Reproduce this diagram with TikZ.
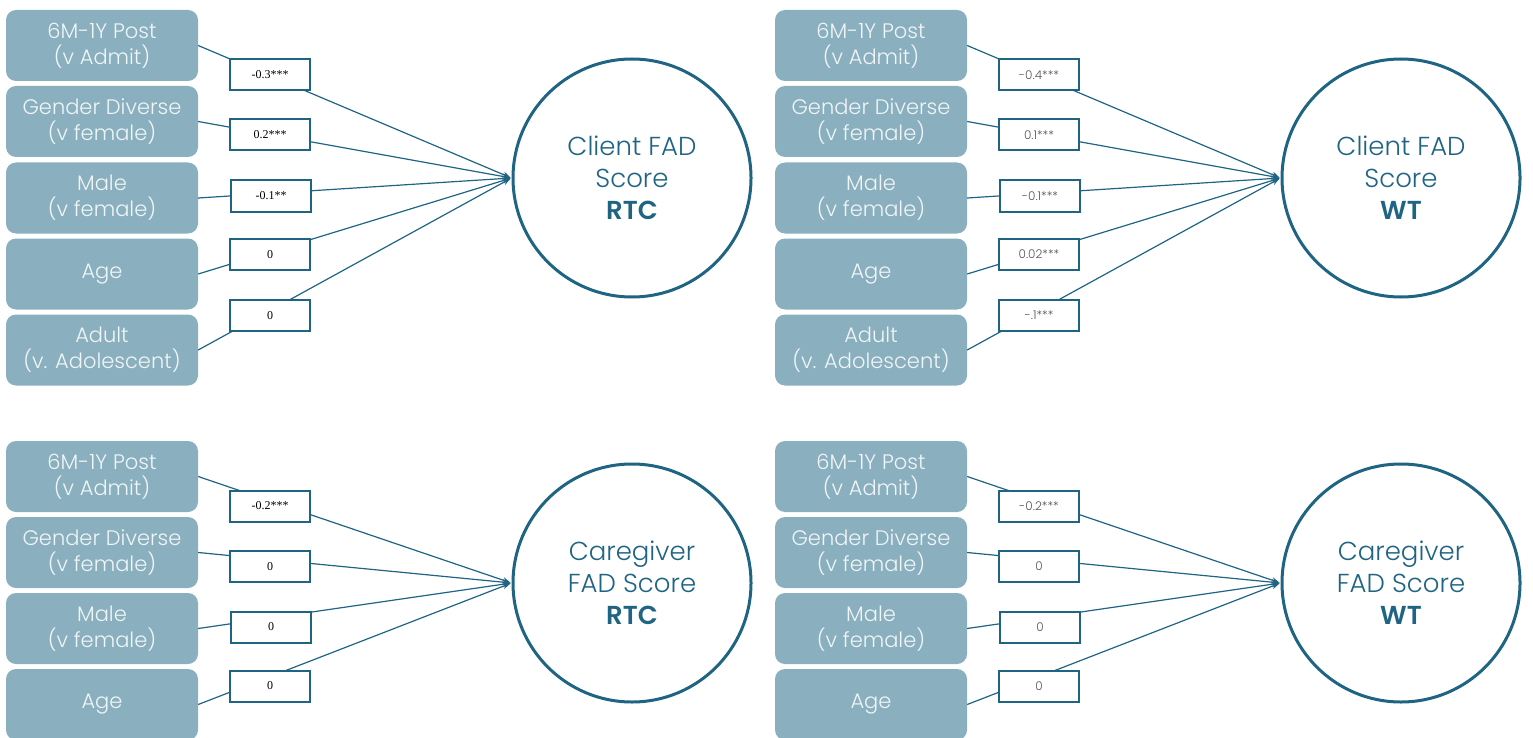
\documentclass[tikz,border=0pt]{standalone}
\usepackage{fontspec}
\setmainfont{Poppins}[UprightFont=* Light, BoldFont=* SemiBold]
\newfontfamily\coefserif{Liberation Serif}
\usetikzlibrary{arrows.meta}
\definecolor{boxfill}{HTML}{8AAFBF}
\definecolor{predtext}{HTML}{F0F5F7}
\definecolor{tealc}{HTML}{1F6483}
\definecolor{coefgray}{HTML}{555555}
\tikzset{
  pred/.style={rectangle, rounded corners=10pt, fill=boxfill, minimum width=192pt, minimum height=71pt,
    inner sep=0pt, text=predtext, align=center, font=\fontsize{21}{26}\selectfont},
  coef/.style={rectangle, draw=tealc, line width=2pt, fill=white, minimum width=80pt, minimum height=31pt,
    inner sep=0pt},
  coefrtc/.style={coef, font=\coefserif\fontsize{12}{14}\selectfont, text=black},
  coefwt/.style={coef, font=\fontsize{12}{14}\selectfont, text=coefgray},
  outc/.style={circle, draw=tealc, line width=3pt, minimum size=238pt, inner sep=0pt, align=center,
    text=tealc, font=\fontsize{26}{32}\selectfont},
  conn/.style={draw=tealc, line width=1.2pt, shorten >=1pt, -{Stealth[length=8pt,width=6pt]}},
}
\begin{document}
\begin{tikzpicture}[x=1pt,y=-1pt]
\useasboundingbox (0,0) rectangle (1533,738);
\clip (0,0) rectangle (1533,738);
% ---------- top left ----------
\node[pred] (a1) at (102,45.5) {6M-1Y Post\\(v Admit)};
\node[pred] (a2) at (102,121.5) {Gender Diverse\\(v female)};
\node[pred] (a3) at (102,198) {Male\\(v female)};
\node[pred] (a4) at (102,274) {Age};
\node[pred] (a5) at (102,350) {Adult\\(v. Adolescent)};
\node[outc] (ao) at (632,178) {Client FAD\\Score\\\textbf{RTC}};
\foreach \i in {1,...,5} \draw[conn] (a\i.east) -- (ao.west);
\node[coefrtc] (ac1) at (270,75) {-0.3***};
\node[coefrtc] (ac2) at (270,135) {0.2***};
\node[coefrtc] (ac3) at (271,196) {-0.1**};
\node[coefrtc] (ac4) at (270,254.5) {0};
\node[coefrtc] (ac5) at (270,315.5) {0};
% ---------- top right ----------
\node[pred] (b1) at (871,45.5) {6M-1Y Post\\(v Admit)};
\node[pred] (b2) at (871,121.5) {Gender Diverse\\(v female)};
\node[pred] (b3) at (871,198) {Male\\(v female)};
\node[pred] (b4) at (871,274) {Age};
\node[pred] (b5) at (871,350) {Adult\\(v. Adolescent)};
\node[outc] (bo) at (1401,178) {Client FAD\\Score\\\textbf{WT}};
\foreach \i in {1,...,5} \draw[conn] (b\i.east) -- (bo.west);
\node[coefwt] (bc1) at (1039,75) {-0.4***};
\node[coefwt] (bc2) at (1039,135) {0.1***};
\node[coefwt] (bc3) at (1040,196) {-0.1***};
\node[coefwt] (bc4) at (1039,254.5) {0.02***};
\node[coefwt] (bc5) at (1039,315.5) {-.1***};
% ---------- bottom left ----------
\node[pred] (c1) at (102,476.5) {6M-1Y Post\\(v Admit)};
\node[pred] (c2) at (102,552.5) {Gender Diverse\\(v female)};
\node[pred] (c3) at (102,628.5) {Male\\(v female)};
\node[pred] (c4) at (102,704.5) {Age};
\node[outc] (co) at (632,583) {Caregiver\\FAD Score\\\textbf{RTC}};
\foreach \i in {1,...,4} \draw[conn] (c\i.east) -- (co.west);
\node[coefrtc] (cc1) at (270,506) {-0.2***};
\node[coefrtc] (cc2) at (270,566.5) {0};
\node[coefrtc] (cc3) at (271,627) {0};
\node[coefrtc] (cc4) at (270,686) {0};
% ---------- bottom right ----------
\node[pred] (d1) at (871,476.5) {6M-1Y Post\\(v Admit)};
\node[pred] (d2) at (871,552.5) {Gender Diverse\\(v female)};
\node[pred] (d3) at (871,628.5) {Male\\(v female)};
\node[pred] (d4) at (871,704.5) {Age};
\node[outc] (do) at (1401,583) {Caregiver\\FAD Score\\\textbf{WT}};
\foreach \i in {1,...,4} \draw[conn] (d\i.east) -- (do.west);
\node[coefwt] (dc1) at (1039,506) {-0.2***};
\node[coefwt] (dc2) at (1039,566.5) {0};
\node[coefwt] (dc3) at (1040,627) {0};
\node[coefwt] (dc4) at (1039,686) {0};
\end{tikzpicture}
\end{document}
